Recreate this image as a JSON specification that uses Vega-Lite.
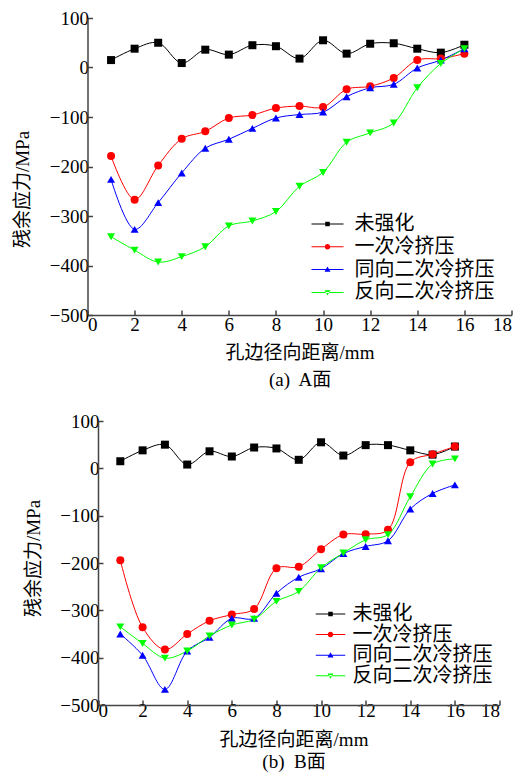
{
  "$schema": "https://vega.github.io/schema/vega-lite/v6.json",
  "background": "white",
  "padding": {"top": 9, "left": 13.5, "right": 5, "bottom": 5},
  "spacing": 23,
  "config": {
    "view": {"stroke": null},
    "axis": {
      "grid": false,
      "domainColor": "#444", "domainWidth": 1.5,
      "tickColor": "#444", "tickWidth": 1.5, "tickSize": -5,
      "labelFont": "'Liberation Serif', 'Noto Sans CJK SC', serif", "labelFontSize": 19, "labelColor": "#000",
      "titleFont": "'Liberation Serif', 'Noto Sans CJK SC', serif", "titleFontSize": 19, "titleFontWeight": "normal", "titleColor": "#000"
    },
    "legend": {
      "labelFont": "'Liberation Serif', 'Noto Sans CJK SC', serif", "labelColor": "#000", "symbolOpacity": 1, "symbolStrokeWidth": 0, "padding": 0
    }
  },
  "resolve": {"scale": {"color": "independent", "shape": "independent"}, "legend": {"color": "independent", "shape": "independent"}},
  "datasets": {
    "A": [
      {"series": "未强化", "x": 1, "y": 15}, {"series": "未强化", "x": 2, "y": 38}, {"series": "未强化", "x": 3, "y": 50}, {"series": "未强化", "x": 4, "y": 9},
      {"series": "未强化", "x": 5, "y": 36}, {"series": "未强化", "x": 6, "y": 26}, {"series": "未强化", "x": 7, "y": 45}, {"series": "未强化", "x": 8, "y": 43},
      {"series": "未强化", "x": 9, "y": 18}, {"series": "未强化", "x": 10, "y": 55}, {"series": "未强化", "x": 11, "y": 28}, {"series": "未强化", "x": 12, "y": 48},
      {"series": "未强化", "x": 13, "y": 49}, {"series": "未强化", "x": 14, "y": 38}, {"series": "未强化", "x": 15, "y": 30}, {"series": "未强化", "x": 16, "y": 46},
      {"series": "一次冷挤压", "x": 1, "y": -179}, {"series": "一次冷挤压", "x": 2, "y": -267}, {"series": "一次冷挤压", "x": 3, "y": -198}, {"series": "一次冷挤压", "x": 4, "y": -144},
      {"series": "一次冷挤压", "x": 5, "y": -129}, {"series": "一次冷挤压", "x": 6, "y": -102}, {"series": "一次冷挤压", "x": 7, "y": -96}, {"series": "一次冷挤压", "x": 8, "y": -82},
      {"series": "一次冷挤压", "x": 9, "y": -78}, {"series": "一次冷挤压", "x": 10, "y": -80}, {"series": "一次冷挤压", "x": 11, "y": -44}, {"series": "一次冷挤压", "x": 12, "y": -38},
      {"series": "一次冷挤压", "x": 13, "y": -21}, {"series": "一次冷挤压", "x": 14, "y": 15}, {"series": "一次冷挤压", "x": 15, "y": 18}, {"series": "一次冷挤压", "x": 16, "y": 28},
      {"series": "同向二次冷挤压", "x": 1, "y": -226}, {"series": "同向二次冷挤压", "x": 2, "y": -327}, {"series": "同向二次冷挤压", "x": 3, "y": -273}, {"series": "同向二次冷挤压", "x": 4, "y": -213},
      {"series": "同向二次冷挤压", "x": 5, "y": -163}, {"series": "同向二次冷挤压", "x": 6, "y": -145}, {"series": "同向二次冷挤压", "x": 7, "y": -123}, {"series": "同向二次冷挤压", "x": 8, "y": -102},
      {"series": "同向二次冷挤压", "x": 9, "y": -95}, {"series": "同向二次冷挤压", "x": 10, "y": -90}, {"series": "同向二次冷挤压", "x": 11, "y": -59}, {"series": "同向二次冷挤压", "x": 12, "y": -41},
      {"series": "同向二次冷挤压", "x": 13, "y": -34}, {"series": "同向二次冷挤压", "x": 14, "y": -1}, {"series": "同向二次冷挤压", "x": 15, "y": 15}, {"series": "同向二次冷挤压", "x": 16, "y": 38},
      {"series": "反向二次冷挤压", "x": 1, "y": -342}, {"series": "反向二次冷挤压", "x": 2, "y": -369}, {"series": "反向二次冷挤压", "x": 3, "y": -393}, {"series": "反向二次冷挤压", "x": 4, "y": -382},
      {"series": "反向二次冷挤压", "x": 5, "y": -362}, {"series": "反向二次冷挤压", "x": 6, "y": -320}, {"series": "反向二次冷挤压", "x": 7, "y": -310}, {"series": "反向二次冷挤压", "x": 8, "y": -291},
      {"series": "反向二次冷挤压", "x": 9, "y": -240}, {"series": "反向二次冷挤压", "x": 10, "y": -212}, {"series": "反向二次冷挤压", "x": 11, "y": -151}, {"series": "反向二次冷挤压", "x": 12, "y": -132},
      {"series": "反向二次冷挤压", "x": 13, "y": -112}, {"series": "反向二次冷挤压", "x": 14, "y": -41}, {"series": "反向二次冷挤压", "x": 15, "y": 8}, {"series": "反向二次冷挤压", "x": 16, "y": 38}
    ],
    "B": [
      {"series": "未强化", "x": 1, "y": 15}, {"series": "未强化", "x": 2, "y": 38}, {"series": "未强化", "x": 3, "y": 50}, {"series": "未强化", "x": 4, "y": 8},
      {"series": "未强化", "x": 5, "y": 36}, {"series": "未强化", "x": 6, "y": 25}, {"series": "未强化", "x": 7, "y": 44}, {"series": "未强化", "x": 8, "y": 42},
      {"series": "未强化", "x": 9, "y": 18}, {"series": "未强化", "x": 10, "y": 55}, {"series": "未强化", "x": 11, "y": 27}, {"series": "未强化", "x": 12, "y": 49},
      {"series": "未强化", "x": 13, "y": 49}, {"series": "未强化", "x": 14, "y": 38}, {"series": "未强化", "x": 15, "y": 29}, {"series": "未强化", "x": 16, "y": 46},
      {"series": "一次冷挤压", "x": 1, "y": -194}, {"series": "一次冷挤压", "x": 2, "y": -336}, {"series": "一次冷挤压", "x": 3, "y": -383}, {"series": "一次冷挤压", "x": 4, "y": -350},
      {"series": "一次冷挤压", "x": 5, "y": -322}, {"series": "一次冷挤压", "x": 6, "y": -309}, {"series": "一次冷挤压", "x": 7, "y": -297}, {"series": "一次冷挤压", "x": 8, "y": -211},
      {"series": "一次冷挤压", "x": 9, "y": -208}, {"series": "一次冷挤压", "x": 10, "y": -171}, {"series": "一次冷挤压", "x": 11, "y": -140}, {"series": "一次冷挤压", "x": 12, "y": -139},
      {"series": "一次冷挤压", "x": 13, "y": -130}, {"series": "一次冷挤压", "x": 14, "y": 13}, {"series": "一次冷挤压", "x": 15, "y": 30}, {"series": "一次冷挤压", "x": 16, "y": 46},
      {"series": "同向二次冷挤压", "x": 1, "y": -350}, {"series": "同向二次冷挤压", "x": 2, "y": -395}, {"series": "同向二次冷挤压", "x": 3, "y": -467}, {"series": "同向二次冷挤压", "x": 4, "y": -386},
      {"series": "同向二次冷挤压", "x": 5, "y": -357}, {"series": "同向二次冷挤压", "x": 6, "y": -317}, {"series": "同向二次冷挤压", "x": 7, "y": -317}, {"series": "同向二次冷挤压", "x": 8, "y": -264},
      {"series": "同向二次冷挤压", "x": 9, "y": -230}, {"series": "同向二次冷挤压", "x": 10, "y": -212}, {"series": "同向二次冷挤压", "x": 11, "y": -180}, {"series": "同向二次冷挤压", "x": 12, "y": -165},
      {"series": "同向二次冷挤压", "x": 13, "y": -153}, {"series": "同向二次冷挤压", "x": 14, "y": -86}, {"series": "同向二次冷挤压", "x": 15, "y": -53}, {"series": "同向二次冷挤压", "x": 16, "y": -35},
      {"series": "反向二次冷挤压", "x": 1, "y": -335}, {"series": "反向二次冷挤压", "x": 2, "y": -370}, {"series": "反向二次冷挤压", "x": 3, "y": -401}, {"series": "反向二次冷挤压", "x": 4, "y": -386},
      {"series": "反向二次冷挤压", "x": 5, "y": -354}, {"series": "反向二次冷挤压", "x": 6, "y": -331}, {"series": "反向二次冷挤压", "x": 7, "y": -319}, {"series": "反向二次冷挤压", "x": 8, "y": -281},
      {"series": "反向二次冷挤压", "x": 9, "y": -260}, {"series": "反向二次冷挤压", "x": 10, "y": -210}, {"series": "反向二次冷挤压", "x": 11, "y": -179}, {"series": "反向二次冷挤压", "x": 12, "y": -151},
      {"series": "反向二次冷挤压", "x": 13, "y": -140}, {"series": "反向二次冷挤压", "x": 14, "y": -60}, {"series": "反向二次冷挤压", "x": 15, "y": 9}, {"series": "反向二次冷挤压", "x": 16, "y": 20}
    ]
  },
  "vconcat": [
    {
      "width": 424,
      "height": 297,
      "data": {"name": "A"},
      "resolve": {"scale": {"color": "independent", "shape": "independent"}, "legend": {"color": "independent", "shape": "independent"}},
      "layer": [
        {
          "mark": {"type": "line", "interpolate": "catmull-rom", "strokeWidth": 1},
          "encoding": {
            "x": {"field": "x", "type": "quantitative", "scale": {"domain": [0, 18], "nice": false},
                  "axis": {"values": [0, 2, 4, 6, 8, 10, 12, 14, 16, 18], "title": ["孔边径向距离/mm", "(a)\u00a0 A面"], "titleLineHeight": 27, "titlePadding": 9, "labelPadding": 5}},
            "y": {"field": "y", "type": "quantitative", "scale": {"domain": [-500, 100], "nice": false},
                  "axis": {"values": [-500, -400, -300, -200, -100, 0, 100], "title": "残余应力/MPa", "titlePadding": 16.5, "labelPadding": 4, "titleY": 171}},
            "color": {"field": "series", "type": "nominal", "legend": null,
                      "scale": {"domain": ["未强化", "一次冷挤压", "同向二次冷挤压", "反向二次冷挤压"], "range": ["#000000", "#ff0000", "#0000ff", "#00ff00"]}}
          }
        },
        {
          "mark": {"type": "point", "filled": true, "opacity": 1, "size": 64},
          "encoding": {
            "x": {"field": "x", "type": "quantitative"},
            "y": {"field": "y", "type": "quantitative"},
            "color": {"field": "series", "type": "nominal", "legend": null,
                      "scale": {"domain": ["未强化", "一次冷挤压", "同向二次冷挤压", "反向二次冷挤压"], "range": ["#000000", "#ff0000", "#0000ff", "#00ff00"]}},
            "shape": {"field": "series", "type": "nominal", "legend": null,
                      "scale": {"domain": ["未强化", "一次冷挤压", "同向二次冷挤压", "反向二次冷挤压"], "range": ["square", "circle", "triangle-up", "triangle-down"]}}
          }
        },
        {
          "mark": {"type": "point", "filled": true, "opacity": 0, "size": 64},
          "encoding": {
            "x": {"field": "x", "type": "quantitative"},
            "y": {"field": "y", "type": "quantitative"},
            "color": {"field": "series", "type": "nominal",
                      "scale": {"domain": ["未强化", "一次冷挤压", "同向二次冷挤压", "反向二次冷挤压"], "range": ["#000000", "#ff0000", "#0000ff", "#00ff00"]},
                      "legend": {"title": null, "orient": "none", "legendX": 230, "legendY": 196, "symbolSize": 100, "labelFontSize": 20, "labelOffset": 17, "rowPadding": 2.8}},
            "shape": {"field": "series", "type": "nominal",
                      "scale": {"domain": ["未强化", "一次冷挤压", "同向二次冷挤压", "反向二次冷挤压"],
                                "range": ["M-3.2,-0.1H3.2V0.1H-3.2ZM-0.45,-0.45H0.45V0.45H-0.45Z", "M-3.2,-0.1H3.2V0.1H-3.2ZM0.55,0A0.55,0.55 0 1,1 -0.55,0A0.55,0.55 0 1,1 0.55,0Z", "M-3.2,-0.1H3.2V0.1H-3.2ZM0,-0.6L0.6,0.45H-0.6Z", "M-3.2,-0.1H3.2V0.1H-3.2ZM0,0.6L0.6,-0.45H-0.6Z"]},
                      "legend": {"title": null, "orient": "none", "legendX": 230, "legendY": 196, "symbolSize": 100, "labelFontSize": 20, "labelOffset": 17, "rowPadding": 2.8}}
          }
        }
      ]
    },
    {
      "width": 412,
      "height": 284,
      "data": {"name": "B"},
      "resolve": {"scale": {"color": "independent", "shape": "independent"}, "legend": {"color": "independent", "shape": "independent"}},
      "layer": [
        {
          "mark": {"type": "line", "interpolate": "catmull-rom", "strokeWidth": 1},
          "encoding": {
            "x": {"field": "x", "type": "quantitative", "scale": {"domain": [0, 18], "nice": false, "range": [10.5, 412]},
                  "axis": {"values": [0, 2, 4, 6, 8, 10, 12, 14, 16, 18], "title": ["孔边径向距离/mm", "(b)\u00a0 B面"], "titleLineHeight": 22, "titlePadding": 10, "labelPadding": 1, "titleX": 206}},
            "y": {"field": "y", "type": "quantitative", "scale": {"domain": [-500, 100], "nice": false},
                  "axis": {"values": [-500, -400, -300, -200, -100, 0, 100], "title": "残余应力/MPa", "titlePadding": 16.5, "labelPadding": 4, "offset": -10.5, "titleY": 137}},
            "color": {"field": "series", "type": "nominal", "legend": null,
                      "scale": {"domain": ["未强化", "一次冷挤压", "同向二次冷挤压", "反向二次冷挤压"], "range": ["#000000", "#ff0000", "#0000ff", "#00ff00"]}}
          }
        },
        {
          "mark": {"type": "point", "filled": true, "opacity": 1, "size": 64},
          "encoding": {
            "x": {"field": "x", "type": "quantitative"},
            "y": {"field": "y", "type": "quantitative"},
            "color": {"field": "series", "type": "nominal", "legend": null,
                      "scale": {"domain": ["未强化", "一次冷挤压", "同向二次冷挤压", "反向二次冷挤压"], "range": ["#000000", "#ff0000", "#0000ff", "#00ff00"]}},
            "shape": {"field": "series", "type": "nominal", "legend": null,
                      "scale": {"domain": ["未强化", "一次冷挤压", "同向二次冷挤压", "反向二次冷挤压"], "range": ["square", "circle", "triangle-up", "triangle-down"]}}
          }
        },
        {
          "mark": {"type": "point", "filled": true, "opacity": 0, "size": 64},
          "encoding": {
            "x": {"field": "x", "type": "quantitative"},
            "y": {"field": "y", "type": "quantitative"},
            "color": {"field": "series", "type": "nominal",
                      "scale": {"domain": ["未强化", "一次冷挤压", "同向二次冷挤压", "反向二次冷挤压"], "range": ["#000000", "#ff0000", "#0000ff", "#00ff00"]},
                      "legend": {"title": null, "orient": "none", "legendX": 233, "legendY": 183, "symbolSize": 100, "labelFontSize": 20, "labelOffset": 12, "rowPadding": 0.6}},
            "shape": {"field": "series", "type": "nominal",
                      "scale": {"domain": ["未强化", "一次冷挤压", "同向二次冷挤压", "反向二次冷挤压"],
                                "range": ["M-2.95,-0.1H2.95V0.1H-2.95ZM-0.45,-0.45H0.45V0.45H-0.45Z", "M-2.95,-0.1H2.95V0.1H-2.95ZM0.55,0A0.55,0.55 0 1,1 -0.55,0A0.55,0.55 0 1,1 0.55,0Z", "M-2.95,-0.1H2.95V0.1H-2.95ZM0,-0.6L0.6,0.45H-0.6Z", "M-2.95,-0.1H2.95V0.1H-2.95ZM0,0.6L0.6,-0.45H-0.6Z"]},
                      "legend": {"title": null, "orient": "none", "legendX": 233, "legendY": 183, "symbolSize": 100, "labelFontSize": 20, "labelOffset": 12, "rowPadding": 0.6}}
          }
        }
      ]
    }
  ]
}
